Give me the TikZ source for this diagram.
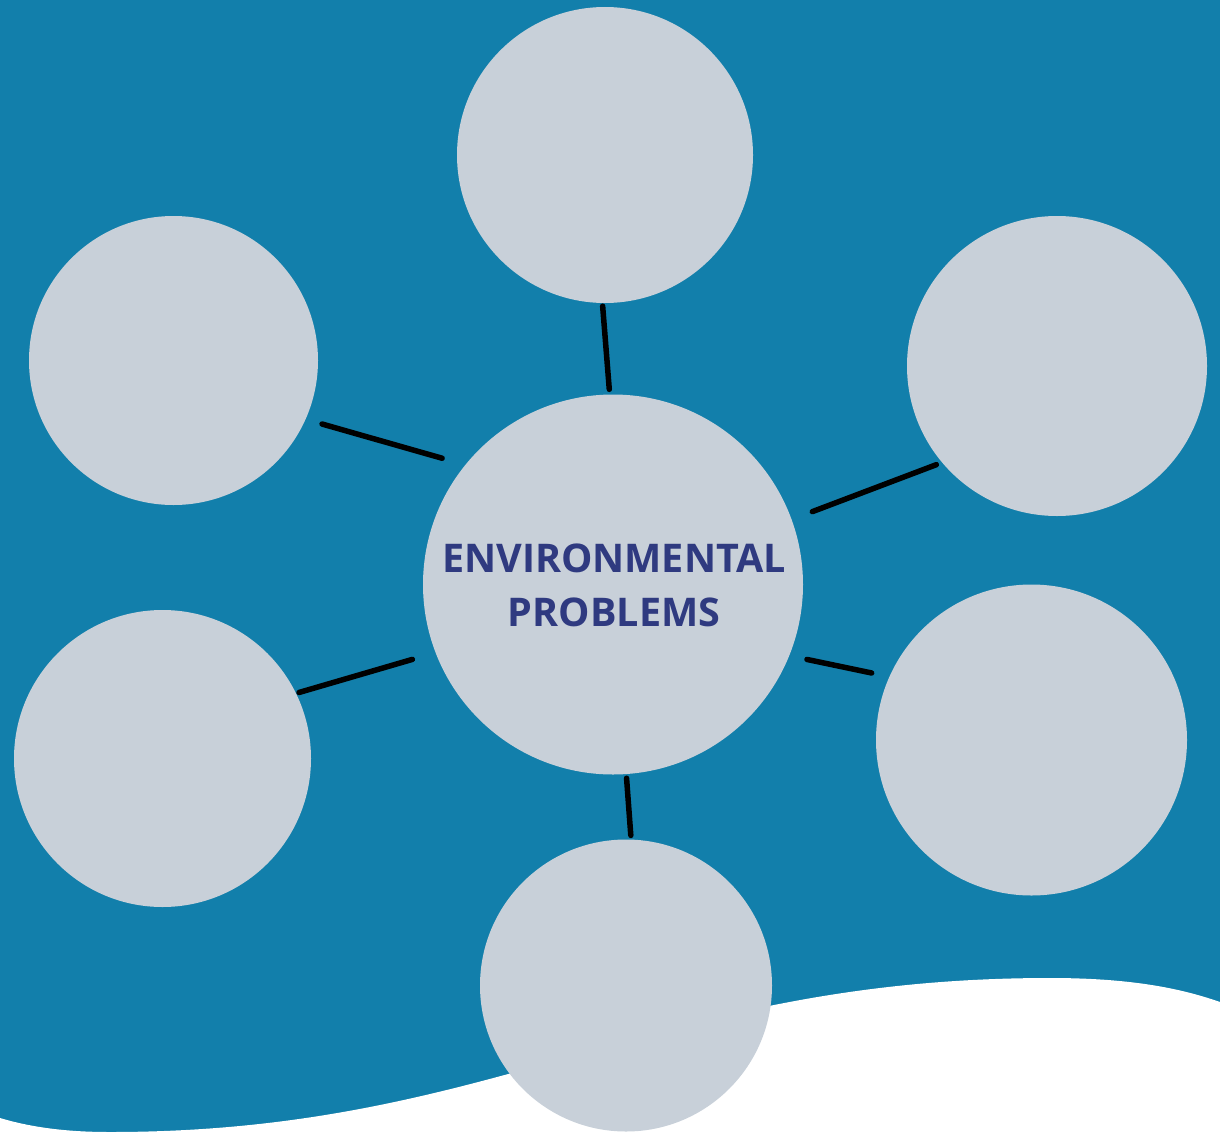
\documentclass[tikz,border=0pt]{standalone}
\usepackage{fontspec}
\setmainfont{Open Sans}
\usetikzlibrary{calc}
\definecolor{bgblue}{HTML}{127FAB}
\definecolor{bubble}{HTML}{C8D0D9}
\definecolor{titleblue}{HTML}{2F3A80}
\tikzset{
  bub/.style={circle, fill=bubble, inner sep=0pt, minimum size=#1},
  link/.style={line width=5.5pt, line cap=round, black},
}
\begin{document}
\begin{tikzpicture}[x=1pt,y=-1pt]
\useasboundingbox (0,0) rectangle (1220,1132);
\fill[bgblue] (0,0) rectangle (1220,1132);
\fill[white] (0,1118) .. controls (40,1130) and (80,1132) .. (110,1132)
  .. controls (500,1132) and (650,978) .. (1050,978)
  .. controls (1130,978) and (1180,988) .. (1220,1002)
  -- (1220,1132) -- (0,1132) -- cycle;
\node[bub=380pt] (c) at (613,584.5) {};
\node[bub=296pt] (t) at (605,155) {};
\node[bub=289pt] (lt) at (173.5,360.5) {};
\node[bub=300pt] (rt) at (1057,366) {};
\node[bub=297pt] (lb) at (162.5,758.5) {};
\node[bub=311pt] (rb) at (1031.5,740) {};
\node[bub=292pt] (b) at (626,985.5) {};
\node[align=center, font=\bfseries\fontsize{39.5}{54}\selectfont, text=titleblue] (title) at (614,585) {ENVIRONMENTAL\\PROBLEMS};
\draw[link, shorten <=5pt, shorten >=3pt] (c.91.8) -- (t.269.2);
\draw[link, shorten <=24pt, shorten >=17pt] (c.141.8) -- (lt.336.4);
\draw[link, shorten <=22pt, shorten >=6pt] (c.20.4) -- (rt.220.8);
\draw[link, shorten <=24pt, shorten >=3pt] (c.201.3) -- (lb.26.8);
\draw[link, shorten <=18pt, shorten >=18pt] (c.338.9) -- (rb.156.5);
\draw[link, shorten <=4pt, shorten >=4pt] (c.274.8) -- (b.88.8);
\end{tikzpicture}
\end{document}
